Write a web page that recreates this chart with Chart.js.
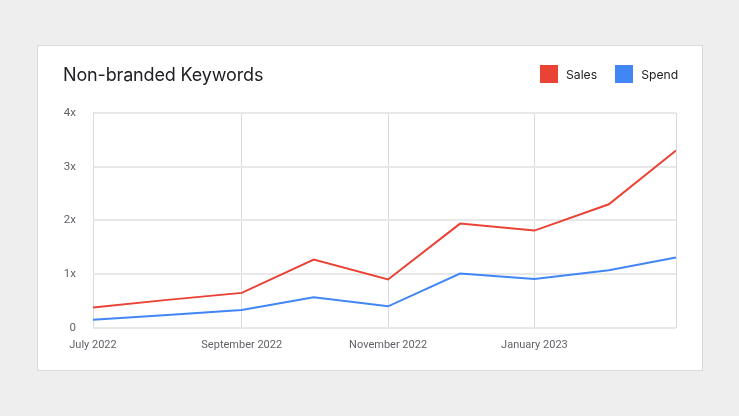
<!DOCTYPE html>
<html>
<head>
<meta charset="utf-8">
<script src="https://cdn.jsdelivr.net/npm/chart.js@4/dist/chart.umd.min.js"></script>
<style>
  html, body { margin: 0; padding: 0; background: #eeeeee; }
  body { width: 739px; height: 416px; position: relative; overflow: hidden; }
  .card {
    position: absolute; left: 37px; top: 45px; width: 664px; height: 324px;
    background: #ffffff; border: 1px solid #dadada;
  }
  .title {
    position: absolute; left: 25px; top: 18px; margin: 0;
    font-family: Inter, 'Noto Sans', sans-serif; font-size: 18px; font-weight: 400;
    color: #202124; letter-spacing: -0.15px; line-height: 22px;
  }
  .legend { position: absolute; top: 19px; left: 502px; height: 18px; display: flex; align-items: center;
    font-family: Inter, sans-serif; font-size: 12.2px; color: #202124; }
  .legend span.box { display: inline-block; width: 18px; height: 18px; margin-right: 8px; }
  .legend span.item { display: flex; align-items: center; margin-right: 18px; }
  canvas { position: absolute; left: 0; top: 0; }
</style>
</head>
<body>
<div class="card">
  <div style="position:absolute;left:0;top:0;width:664px;height:324px;">
    <canvas id="chart"></canvas>
  </div>
  <h1 class="title">Non-branded Keywords</h1>
  <div class="legend" id="legend"></div>
</div>
<script>
// one point per month
const dates = ['2022-07-01', '2022-08-01', '2022-09-01', '2022-10-01', '2022-11-01',
  '2022-12-01', '2023-01-01', '2023-02-01', '2023-03-01'];
const sales = [0.38, 0.52, 0.65, 1.27, 0.9, 1.94, 1.81, 2.3, 3.3];
const spend = [0.15, 0.24, 0.33, 0.57, 0.4, 1.01, 0.91, 1.07, 1.31];
const xTickDates = ['2022-07-01', '2022-09-01', '2022-11-01', '2023-01-01', '2023-03-01'];
const xTickLabels = ['July 2022', 'September 2022', 'November 2022', 'January 2023', ''];
const yTicks = [0, 1, 2, 3, 4];

const red = '#ea4335';
const blue = '#4285f4';

// x is a day count from the first date (no date adapter offline)
const DAY = 24 * 3600 * 1000;
const day = (s) => (Date.parse(s) - Date.parse(dates[0])) / DAY;
const xDays = dates.map(day);
const xTickDays = xTickDates.map(day);

const ctx = document.getElementById('chart');
const chart = new Chart(ctx, {
  type: 'line',
  data: {
    datasets: [
      {
        label: 'Sales',
        data: xDays.map((x, i) => ({ x, y: sales[i] })),
        borderColor: red,
        backgroundColor: red,
        borderWidth: 2,
        pointRadius: 0,
        tension: 0,
      },
      {
        label: 'Spend',
        data: xDays.map((x, i) => ({ x, y: spend[i] })),
        borderColor: blue,
        backgroundColor: blue,
        borderWidth: 2,
        pointRadius: 0,
        tension: 0,
      },
    ],
  },
  options: {
    responsive: true,
    maintainAspectRatio: false,
    animation: false,
    layout: {
      padding: { left: 20, right: 26, top: 67, bottom: 7 },
    },
    plugins: {
      tooltip: { enabled: false },
      legend: { display: false },
    },
    scales: {
      x: {
        type: 'linear',
        min: xTickDays[0],
        max: xTickDays[xTickDays.length - 1],
        afterBuildTicks: (s) => { s.ticks = xTickDays.map((v) => ({ value: v })); },
        border: { display: false },
        grid: {
          drawTicks: false,
          lineWidth: 1,
          color: '#dadada',
        },
        ticks: {
          autoSkip: false,
          maxRotation: 0,
          padding: 11,
          color: '#5f6368',
          font: { family: 'Roboto', size: 11 },
          callback: (v) => xTickLabels[xTickDays.indexOf(v)],
        },
      },
      y: {
        min: 0,
        max: 4,
        afterFit: (s) => { s.width = 35; },
        afterBuildTicks: (s) => { s.ticks = yTicks.map((v) => ({ value: v })); },
        border: { display: false },
        grid: {
          drawTicks: false,
          lineWidth: 2,
          color: '#e8e8e8',
        },
        ticks: {
          padding: 17,
          color: '#5f6368',
          font: { family: 'Roboto', size: 11.5 },
          callback: (v) => (v === 0 ? '0' : v + 'x'),
        },
      },
    },
  },
});

// legend from the chart's own datasets
const legend = document.getElementById('legend');
chart.data.datasets.forEach((d) => {
  const item = document.createElement('span');
  item.classList.add('item');
  const box = document.createElement('span');
  box.classList.add('box');
  box.style.background = d.borderColor;
  item.appendChild(box);
  item.appendChild(document.createTextNode(d.label));
  legend.appendChild(item);
});
</script>
</body>
</html>
